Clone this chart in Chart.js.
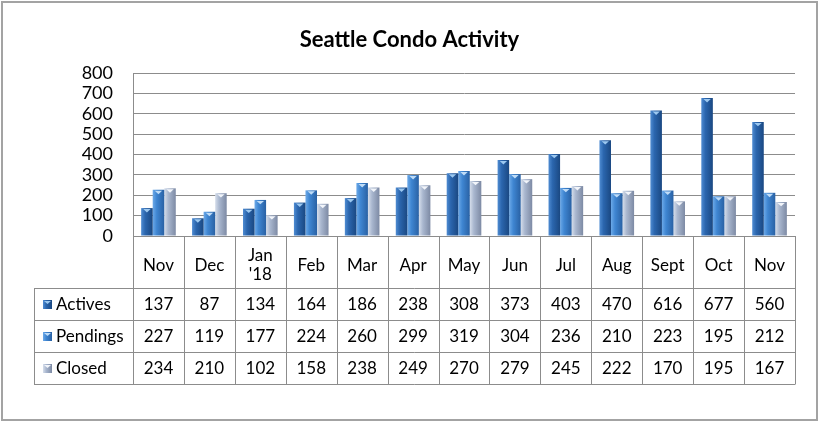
<!DOCTYPE html>
<html>
<head>
<meta charset="utf-8">
<script src="https://cdn.jsdelivr.net/npm/chart.js@4.4.1/dist/chart.umd.min.js"></script>
<style>
  body { margin: 0; background: #fff; }
  #wrap { position: relative; width: 819px; height: 422px; }
  #frame { position: absolute; left: 1px; top: 1px; width: 813px; height: 416px; border: 2px solid #a3a3a3; pointer-events: none; }
</style>
</head>
<body>
<div id="wrap">
  <canvas id="myChart" width="819" height="422"></canvas>
  <div id="frame"></div>
</div>
<script>
// data (the table gives exact values)
const months = ['Nov', 'Dec', ['Jan', "'18"], 'Feb', 'Mar', 'Apr', 'May', 'Jun', 'Jul', 'Aug', 'Sept', 'Oct', 'Nov']
const seriesNames = ['Actives', 'Pendings', 'Closed']
const actives = [137, 87, 134, 164, 186, 238, 308, 373, 403, 470, 616, 677, 560]
const pendings = [227, 119, 177, 224, 260, 299, 319, 304, 236, 210, 223, 195, 212]
const closed = [234, 210, 102, 158, 238, 249, 270, 279, 245, 222, 170, 195, 167]
const yMax = 800
const yStep = 100

// colours for the shaded bars
const palette = [
    {light: '#4f8cd2', mid: '#2b66ae', dark: '#1a4882', tip: '#9cc8f0'},
    {light: '#6ca9e8', mid: '#3f86d2', dark: '#2961a4', tip: '#bfdcf7'},
    {light: '#d6deeb', mid: '#a9b7cf', dark: '#7d8aa4', tip: '#f2f5fa'}
]

Chart.defaults.font.family = 'Lato'
Chart.defaults.color = '#000'

const lineColor = '#8c8c8c'
const rowTop = 288    // first data row of the table
const rowH = 32
const tableLeft = 34

function shade(ctx, x0, x1, p) {
    const g = ctx.createLinearGradient(x0, 0, x1, 0)
    g.addColorStop(0, p.light)
    g.addColorStop(0.35, p.mid)
    g.addColorStop(1, p.dark)
    return g
}

// give each bar a left-to-right shading, and a light tip on top
const barShading = {
    id: 'barShading',
    beforeDatasetsDraw(chart) {
        const ctx = chart.ctx
        chart.data.datasets.forEach((ds, di) => {
            chart.getDatasetMeta(di).data.forEach(el => {
                el.options.backgroundColor = shade(ctx, el.x - el.width / 2, el.x + el.width / 2, palette[di])
            })
        })
    },
    afterDatasetsDraw(chart) {
        const ctx = chart.ctx
        ctx.save()
        chart.data.datasets.forEach((ds, di) => {
            chart.getDatasetMeta(di).data.forEach(el => {
                const w = el.width
                ctx.fillStyle = palette[di].tip
                ctx.beginPath()
                ctx.moveTo(el.x - w * 0.32, el.y + 1)
                ctx.lineTo(el.x + w * 0.32, el.y + 1)
                ctx.lineTo(el.x, el.y + w * 0.38)
                ctx.closePath()
                ctx.fill()
            })
        })
        ctx.restore()
    }
}

// data table under the plot
const dataTable = {
    id: 'dataTable',
    afterDraw(chart) {
        const ctx = chart.ctx
        const x = chart.scales.x
        const area = chart.chartArea
        const n = months.length
        const cw = (area.right - area.left) / n
        const rows = [actives, pendings, closed]
        const bottom = rowTop + rowH * rows.length

        ctx.save()
        ctx.strokeStyle = lineColor
        ctx.lineWidth = 1
        ctx.beginPath()
        for (let i = 0; i <= n; i++) {
            const xx = Math.round(area.left + i * cw) + 0.5
            ctx.moveTo(xx, area.bottom)
            ctx.lineTo(xx, bottom)
        }
        for (let r = 0; r <= rows.length; r++) {
            const yy = rowTop + r * rowH + 0.5
            ctx.moveTo(tableLeft, yy)
            ctx.lineTo(area.right + 0.5, yy)
        }
        ctx.moveTo(tableLeft + 0.5, rowTop)
        ctx.lineTo(tableLeft + 0.5, bottom + 0.5)
        ctx.stroke()

        ctx.font = '17px Lato'
        ctx.fillStyle = '#000'
        ctx.textBaseline = 'middle'
        rows.forEach((vals, r) => {
            const cy = rowTop + r * rowH + rowH / 2 + 1
            // legend key
            const p = palette[r]
            ctx.fillStyle = shade(ctx, 43, 52, p)
            ctx.fillRect(43, cy - 5, 9, 9)
            ctx.fillStyle = p.tip
            ctx.beginPath()
            ctx.moveTo(44, cy - 4)
            ctx.lineTo(51, cy - 4)
            ctx.lineTo(47.5, cy - 1)
            ctx.closePath()
            ctx.fill()
            ctx.fillStyle = '#000'
            ctx.textAlign = 'left'
            ctx.fillText(seriesNames[r], 56, cy)
            ctx.textAlign = 'center'
            vals.forEach((v, i) => {
                ctx.fillText(String(v), x.getPixelForValue(i), cy)
            })
        })
        ctx.restore()
    }
}

const config = {
    type: 'bar',
    data: {
        labels: months,
        datasets: [
            {label: seriesNames[0], data: actives},
            {label: seriesNames[1], data: pendings},
            {label: seriesNames[2], data: closed}
        ].map((d, i) => Object.assign(d, {
            backgroundColor: () => palette[i].mid,
            borderWidth: 0,
            barPercentage: 1.0,
            categoryPercentage: 0.68
        }))
    },
    plugins: [barShading, dataTable],
    options: {
        responsive: false,
        animation: false,
        layout: {padding: 0},
        scales: {
            x: {
                grid: {display: false, drawTicks: false},
                border: {display: true, color: lineColor},
                ticks: {
                    font: {size: 17, lineHeight: 1.1},
                    padding: 20,
                    crossAlign: 'center',
                    autoSkip: false,
                    maxRotation: 0
                },
                afterFit(scale) { scale.height = 186 }
            },
            y: {
                min: 0,
                max: yMax,
                ticks: {stepSize: yStep, font: {size: 18}, padding: 20, autoSkip: false},
                grid: {color: lineColor, drawTicks: false},
                border: {display: true, color: lineColor},
                afterFit(scale) { scale.width = 133 }
            },
            // empty right axis, only keeps room on the right so the title stays centred on the page
            y2: {
                position: 'right',
                display: true,
                ticks: {display: false},
                grid: {display: false},
                border: {display: false},
                afterFit(scale) { scale.width = 24 }
            }
        },
        plugins: {
            legend: {display: false},
            tooltip: {enabled: false},
            title: {
                display: true,
                text: 'Seattle Condo Activity',
                color: '#000',
                font: {size: 22, weight: 'bold', lineHeight: 1.2},
                padding: {top: 27, bottom: 19.6}
            }
        }
    }
}

const myChart = new Chart(document.getElementById('myChart'), config)
</script>
</body>
</html>
